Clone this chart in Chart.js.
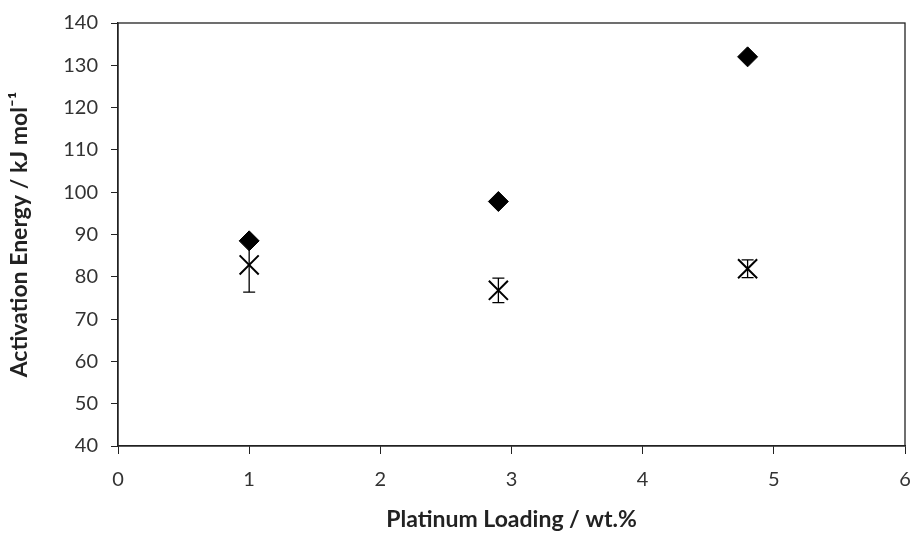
<!DOCTYPE html>
<html>
<head>
<meta charset="utf-8">
<script src="https://cdn.jsdelivr.net/npm/chart.js@4.4.0/dist/chart.umd.min.js"></script>
<style>
  html, body { margin: 0; padding: 0; background: #fff; overflow: hidden; }
  canvas { display: block; }
</style>
</head>
<body>
<canvas id="grafik" width="914" height="533"></canvas>
<script>
const loading = [1.0, 2.9, 4.8];
const eaDiamond = [88.5, 97.8, 132.0];
const eaCross = [82.8, 76.8, 81.9];
const eaCrossErr = [6.4, 2.9, 2.1];

// error bars for the cross series, drawn through the scales
const errorBars = {
    id: 'errorBars',
    afterDatasetsDraw(chart) {
        const ctx = chart.ctx, sx = chart.scales.x, sy = chart.scales.y;
        ctx.save();
        ctx.strokeStyle = '#000'; ctx.lineWidth = 1.3;
        loading.forEach((x, i) => {
            const px = sx.getPixelForValue(x);
            const top = sy.getPixelForValue(eaCross[i] + eaCrossErr[i]);
            const bot = sy.getPixelForValue(eaCross[i] - eaCrossErr[i]);
            ctx.beginPath();
            ctx.moveTo(px, top); ctx.lineTo(px, bot);
            ctx.moveTo(px - 6, top); ctx.lineTo(px + 6, top);
            ctx.moveTo(px - 6, bot); ctx.lineTo(px + 6, bot);
            ctx.stroke();
        });
        ctx.restore();
    }
};

// box round the plot area
const kotak = {
    id: 'kotak',
    afterDraw(chart) {
        const a = chart.chartArea, ctx = chart.ctx;
        ctx.save();
        ctx.strokeStyle = '#222'; ctx.lineWidth = 1.3;
        ctx.strokeRect(a.left, a.top, a.right - a.left, a.bottom - a.top);
        ctx.restore();
    }
};

const tanpaPadding = () => ({ left: 0, top: 0, right: 0, bottom: 0 });

const fontTick = { family: 'Lato', size: 20 };
const fontJudul = { family: 'Lato', size: 23, weight: 'bold' };

new Chart(document.getElementById('grafik'), {
    type: 'scatter',
    data: {
        datasets: [
            {
                label: 'A',
                data: loading.map((x, i) => ({ x, y: eaDiamond[i] })),
                pointStyle: 'rectRot', pointRadius: 10, pointHoverRadius: 10,
                backgroundColor: '#000', borderColor: '#000', borderWidth: 1
            },
            {
                label: 'B',
                data: loading.map((x, i) => ({ x, y: eaCross[i] })),
                pointStyle: 'crossRot', pointRadius: 13.5, pointHoverRadius: 13.5,
                backgroundColor: '#000', borderColor: '#000', borderWidth: 2
            }
        ]
    },
    options: {
        responsive: false, animation: false, devicePixelRatio: 1,
        layout: { autoPadding: false, padding: { top: 23, right: 9, left: 0, bottom: 0 } },
        plugins: { legend: { display: false }, tooltip: { enabled: false } },
        scales: {
            x: {
                type: 'linear', min: 0, max: 6,
                ticks: { stepSize: 1, color: '#333', font: fontTick, padding: 14 },
                grid: { drawOnChartArea: false, drawTicks: true, tickLength: 8, color: '#222' },
                border: { display: true, color: '#222', width: 1.3 },
                title: { display: true, text: 'Platinum Loading / wt.%', color: '#222', font: fontJudul, padding: { top: 0, bottom: 0 } },
                afterFit(s) { s.height = 87; s.paddingRight = 0; s.paddingLeft = 0; s.getPadding = tanpaPadding; }
            },
            y: {
                min: 40, max: 140,
                ticks: { stepSize: 10, color: '#333', font: fontTick, padding: 13 },
                grid: { drawOnChartArea: false, drawTicks: true, tickLength: 7, color: '#222' },
                border: { display: true, color: '#222', width: 1.3 },
                title: { display: true, text: 'Activation Energy / kJ mol\u207B\u00B9', color: '#222', font: fontJudul, padding: { top: 6, bottom: 0 } },
                afterFit(s) { s.width = 118; s.paddingTop = 0; s.paddingBottom = 0; s.getPadding = tanpaPadding; }
            }
        }
    },
    plugins: [errorBars, kotak]
});
</script>
</body>
</html>
